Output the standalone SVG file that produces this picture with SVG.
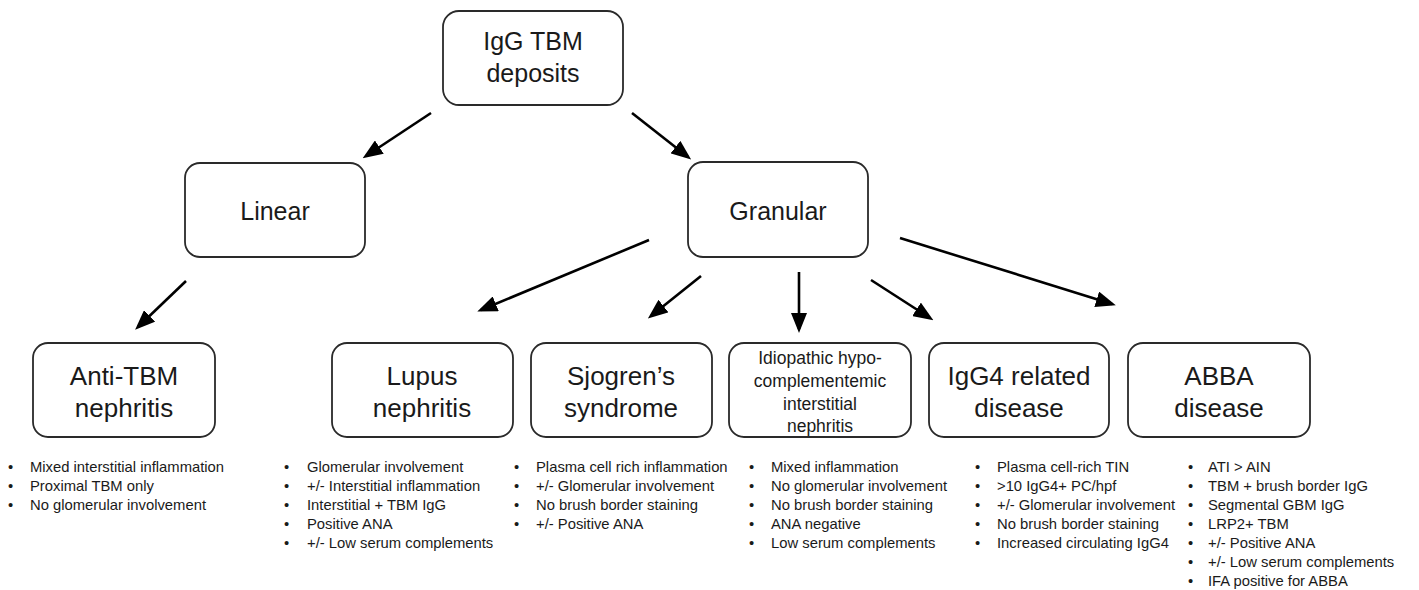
<svg xmlns="http://www.w3.org/2000/svg" width="1419" height="590" viewBox="0 0 1419 590">
<style>
.box{fill:#fff;stroke:#2a2a2a;stroke-width:1.8}
.t{font-family:"Liberation Sans",Arial,sans-serif;fill:#1a1a1a;text-anchor:middle}
.big{font-size:25px}
.mid{font-size:26px}
.small{font-size:17.5px}
.li{font-family:"Liberation Sans",Arial,sans-serif;font-size:14.8px;fill:#1a1a1a}
.c{stroke:#000;stroke-width:2.6;fill:none;marker-end:url(#ah)}
</style>
<defs>
<marker id="ah" markerUnits="userSpaceOnUse" markerWidth="20" markerHeight="16" viewBox="0 0 20 16" refX="16" refY="8" orient="auto">
<path d="M0,0 L20,8 L0,16 z" fill="#000"/>
</marker>
</defs>
<rect width="1419" height="590" fill="#fff"/>
<g id="connectors">
<line class="c" x1="431" y1="113" x2="366" y2="156"/>
<line class="c" x1="632" y1="113" x2="688" y2="157"/>
<line class="c" x1="186" y1="281" x2="138" y2="327"/>
<line class="c" x1="649" y1="240" x2="481" y2="310"/>
<line class="c" x1="701" y1="276" x2="651" y2="316"/>
<line class="c" x1="799" y1="272" x2="799" y2="329"/>
<line class="c" x1="871" y1="280" x2="930" y2="318"/>
<line class="c" x1="900" y1="238" x2="1112" y2="304"/>
</g>
<g id="root">
<rect class="box" x="443" y="11" width="180" height="94" rx="16"/>
<text class="t big" x="533" y="50">IgG TBM</text>
<text class="t big" x="533" y="82">deposits</text>
</g>
<g id="linear">
<rect class="box" x="185" y="163" width="180" height="94" rx="15"/>
<text class="t big" x="275" y="220">Linear</text>
</g>
<g id="granular">
<rect class="box" x="688" y="162" width="180" height="95" rx="15"/>
<text class="t big" x="778" y="220">Granular</text>
</g>
<g id="anti-tbm">
<rect class="box" x="33" y="343" width="182" height="94" rx="15"/>
<text class="t mid" x="124" y="385">Anti-TBM</text>
<text class="t mid" x="124" y="417">nephritis</text>
<g class="li">
<text x="8" y="472">•</text><text x="30" y="472">Mixed interstitial inflammation</text>
<text x="8" y="491">•</text><text x="30" y="491">Proximal TBM only</text>
<text x="8" y="510">•</text><text x="30" y="510">No glomerular involvement</text>
</g>
</g>
<g id="lupus">
<rect class="box" x="332" y="343" width="181" height="94" rx="15"/>
<text class="t mid" x="422" y="385">Lupus</text>
<text class="t mid" x="422" y="417">nephritis</text>
<g class="li">
<text x="284" y="472">•</text><text x="307" y="472">Glomerular involvement</text>
<text x="284" y="491">•</text><text x="307" y="491">+/- Interstitial inflammation</text>
<text x="284" y="510">•</text><text x="307" y="510">Interstitial + TBM IgG</text>
<text x="284" y="529">•</text><text x="307" y="529">Positive ANA</text>
<text x="284" y="548">•</text><text x="307" y="548">+/- Low serum complements</text>
</g>
</g>
<g id="sjogren">
<rect class="box" x="531" y="343" width="181" height="94" rx="15"/>
<text class="t mid" x="621" y="385">Sjogren’s</text>
<text class="t mid" x="621" y="417">syndrome</text>
<g class="li">
<text x="514" y="472">•</text><text x="536" y="472">Plasma cell rich inflammation</text>
<text x="514" y="491">•</text><text x="536" y="491">+/- Glomerular involvement</text>
<text x="514" y="510">•</text><text x="536" y="510">No brush border staining</text>
<text x="514" y="529">•</text><text x="536" y="529">+/- Positive ANA</text>
</g>
</g>
<g id="idiopathic">
<rect class="box" x="729" y="343" width="182" height="94" rx="15"/>
<text class="t small" x="820" y="364">Idiopathic hypo-</text>
<text class="t small" x="820" y="387">complementemic</text>
<text class="t small" x="820" y="410">interstitial</text>
<text class="t small" x="820" y="432">nephritis</text>
<g class="li">
<text x="749" y="472">•</text><text x="771" y="472">Mixed inflammation</text>
<text x="749" y="491">•</text><text x="771" y="491">No glomerular involvement</text>
<text x="749" y="510">•</text><text x="771" y="510">No brush border staining</text>
<text x="749" y="529">•</text><text x="771" y="529">ANA negative</text>
<text x="749" y="548">•</text><text x="771" y="548">Low serum complements</text>
</g>
</g>
<g id="igg4">
<rect class="box" x="929" y="343" width="180" height="94" rx="15"/>
<text class="t mid" x="1019" y="385">IgG4 related</text>
<text class="t mid" x="1019" y="417">disease</text>
<g class="li">
<text x="975" y="472">•</text><text x="997" y="472">Plasma cell-rich TIN</text>
<text x="975" y="491">•</text><text x="997" y="491">&gt;10 IgG4+ PC/hpf</text>
<text x="975" y="510">•</text><text x="997" y="510">+/- Glomerular involvement</text>
<text x="975" y="529">•</text><text x="997" y="529">No brush border staining</text>
<text x="975" y="548">•</text><text x="997" y="548">Increased circulating IgG4</text>
</g>
</g>
<g id="abba">
<rect class="box" x="1128" y="343" width="182" height="94" rx="15"/>
<text class="t mid" x="1219" y="385">ABBA</text>
<text class="t mid" x="1219" y="417">disease</text>
<g class="li">
<text x="1188" y="472">•</text><text x="1208" y="472">ATI &gt; AIN</text>
<text x="1188" y="491">•</text><text x="1208" y="491">TBM + brush border IgG</text>
<text x="1188" y="510">•</text><text x="1208" y="510">Segmental GBM IgG</text>
<text x="1188" y="529">•</text><text x="1208" y="529">LRP2+ TBM</text>
<text x="1188" y="548">•</text><text x="1208" y="548">+/- Positive ANA</text>
<text x="1188" y="567">•</text><text x="1208" y="567">+/- Low serum complements</text>
<text x="1188" y="586">•</text><text x="1208" y="586">IFA positive for ABBA</text>
</g>
</g>
</svg>
